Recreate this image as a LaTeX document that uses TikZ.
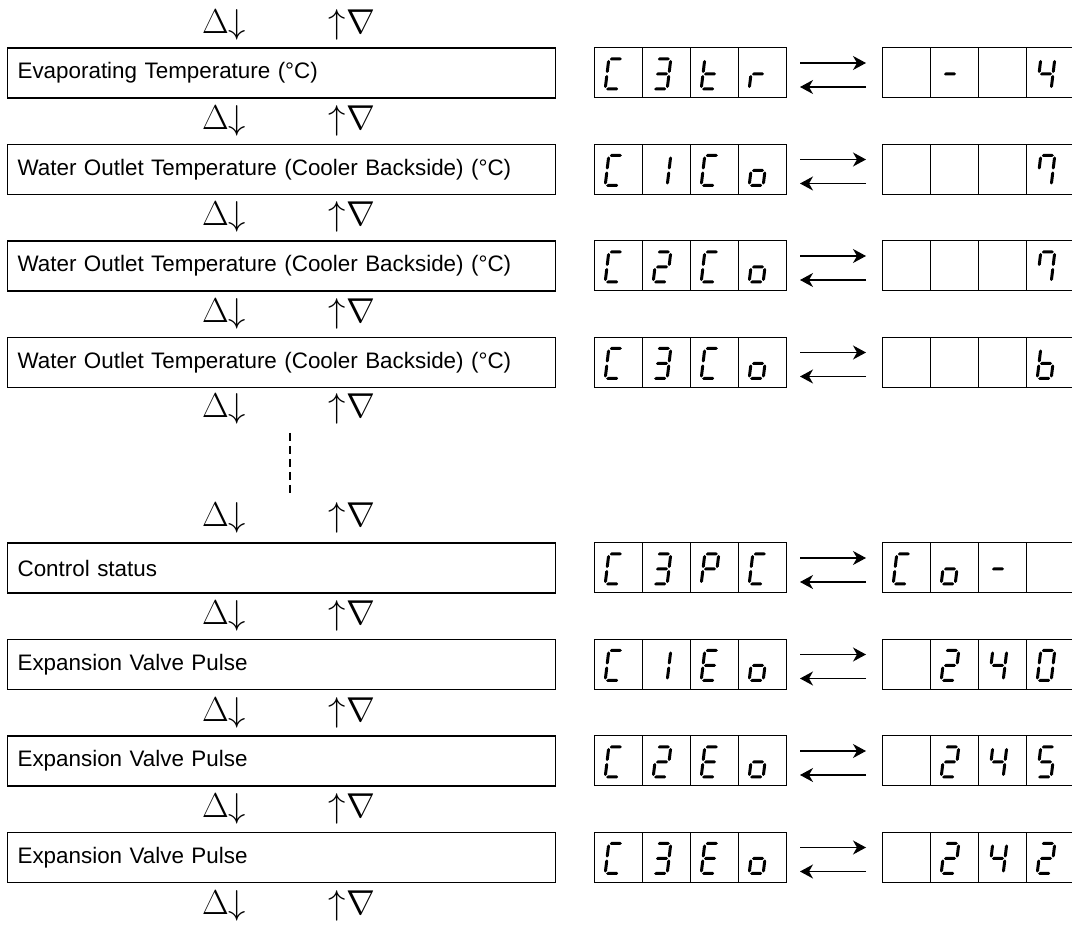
\documentclass[tikz,border=0pt]{standalone}
\usepackage{fontspec}
\newfontfamily\labelfont{Liberation Sans}
\usetikzlibrary{arrows.meta, positioning, calc}

% segment lists of the seven-segment characters
\def\segsC{a,d,e,f}
\def\segsone{b,c}
\def\segstwo{a,b,g,e,d}
\def\segsthree{a,b,g,c,d}
\def\segsfour{f,g,b,c}
\def\segsfive{a,f,g,c,d}
\def\segsseven{a,b,c,f}
\def\segszero{a,b,c,d,e,f}
\def\segst{f,e,g,d}
\def\segsr{e,g}
\def\segso{g,c,d,e}
\def\segsb{c,d,e,f,g}
\def\segsP{a,b,f,g,e}
\def\segsE{a,d,e,f,g}
\def\segsdash{g}
\def\segsx{n}

\tikzset{
  rowbox/.style={draw, line width=0.6pt, anchor=west, minimum width=274pt,
    minimum height=25pt, text width=264pt, align=left, inner xsep=5pt,
    font=\labelfont\fontsize{11.2}{13}\selectfont},
  cell/.style={draw, line width=0.5pt, minimum width=24pt, minimum height=25pt,
    inner sep=0pt, outer sep=0pt, anchor=west},
  keys/.style={inner sep=0pt, font=\fontsize{16}{18}\selectfont},
  seg/.style={fill=black},
  fwd/.style={line width=0.55pt, -{Stealth[length=6.5pt,width=7pt,inset=2pt]}},
  % horizontal and vertical segments as pointed bars
  hseg/.style args={#1/#2/#3}{insert path={(#1,#3) -- ++(1.5,1.5) -- (#2-1.5,#3+1.5)
    -- (#2,#3) -- (#2-1.5,#3-1.5) -- (#1+1.5,#3-1.5) -- cycle}},
  vseg/.style args={#1/#2/#3}{insert path={(#1,#2) -- ++(1.5,-1.5) -- (#1+1.5,#3+1.5)
    -- (#1,#3) -- (#1-1.5,#3+1.5) -- (#1-1.5,#2-1.5) -- cycle}},
  segpath/a/.style={hseg=-6/6/15},
  segpath/g/.style={hseg=-6/6/0},
  segpath/d/.style={hseg=-6/6/-15},
  segpath/b/.style={vseg=7/14/1},
  segpath/c/.style={vseg=7/-1/-14},
  segpath/f/.style={vseg=-7/14/1},
  segpath/e/.style={vseg=-7/-1/-14},
  segpath/n/.style={},
}

% #1 cell name, #2 character name
\newcommand{\sevenseg}[2]{%
  \expandafter\let\expandafter\seglist\csname segs#2\endcsname
  \begin{scope}[shift={($(#1.center)+(-4,-1)$)}, xslant=0.12]
    \foreach \s in \seglist {\fill[seg, segpath/\s];}
  \end{scope}}

\begin{document}
\begin{tikzpicture}[x=0.5pt, y=0.5pt]
  \useasboundingbox (0,0) rectangle (1072,927);

  % key symbols between the rows
  \foreach \i/\ys in {0/902, 1/806, 2/710, 3/613, 4/518, 5/409, 6/311, 7/214, 8/118, 9/21} {
    \node[keys] (dn\i) at (224,\ys) {$\Delta{\downarrow}$};
    \node[keys] (up\i) at (352,\ys) {${\uparrow}\nabla$};
  }

  % skipped items
  \coordinate (gaptop) at (290,494);
  \coordinate (gapbot) at (290,432);
  \draw[line width=0.6pt, dash pattern=on 4pt off 2.5pt] (gaptop) -- (gapbot);

  % rows: item, code display, value display
  \foreach \r/\yc/\txt/\ca/\cb/\cc/\cd/\va/\vb/\vc/\vd in {
      1/854/Evaporating Temperature (°C)/C/three/t/r/x/dash/x/four,
      2/757.5/Water Outlet Temperature (Cooler Backside) (°C)/C/one/C/o/x/x/x/seven,
      3/661/Water Outlet Temperature (Cooler Backside) (°C)/C/two/C/o/x/x/x/seven,
      4/564.5/Water Outlet Temperature (Cooler Backside) (°C)/C/three/C/o/x/x/x/b,
      5/359/Control status/C/three/P/C/C/o/dash/x,
      6/262.5/Expansion Valve Pulse/C/one/E/o/x/two/four/zero,
      7/166/Expansion Valve Pulse/C/two/E/o/x/two/four/five,
      8/69.5/Expansion Valve Pulse/C/three/E/o/x/two/four/two} {
    \node[rowbox] (box\r) at (7,\yc) {\txt};
    \node[cell] (a\r1) at (594,\yc) {};
    \node[cell, right=0pt of a\r1] (a\r2) {};
    \node[cell, right=0pt of a\r2] (a\r3) {};
    \node[cell, right=0pt of a\r3] (a\r4) {};
    \node[cell] (b\r1) at (882,\yc) {};
    \node[cell, right=0pt of b\r1] (b\r2) {};
    \node[cell, right=0pt of b\r2] (b\r3) {};
    \node[cell, right=0pt of b\r3] (b\r4) {};
    \sevenseg{a\r1}{\ca} \sevenseg{a\r2}{\cb}
    \sevenseg{a\r3}{\cc} \sevenseg{a\r4}{\cd}
    \sevenseg{b\r1}{\va} \sevenseg{b\r2}{\vb}
    \sevenseg{b\r3}{\vc} \sevenseg{b\r4}{\vd}
    \draw[fwd] ($(a\r4.east)+(14,10)$) -- ($(b\r1.west)+(-16,10)$);
    \draw[fwd] ($(b\r1.west)+(-16,-14)$) -- ($(a\r4.east)+(14,-14)$);
  }
\end{tikzpicture}
\end{document}
